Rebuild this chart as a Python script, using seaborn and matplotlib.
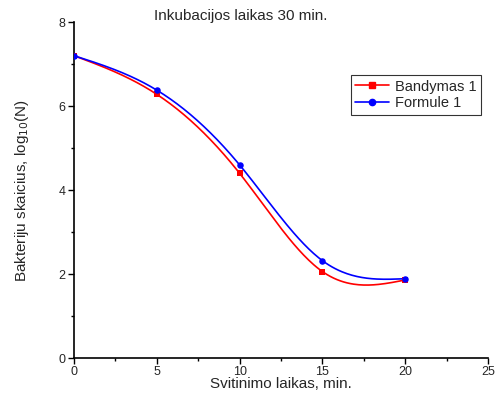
import numpy as np
import pandas as pd
import seaborn as sns
import matplotlib
matplotlib.use("Agg")
import matplotlib.pyplot as plt

# Data
minutes = [0, 5, 10, 15, 20]
bandymas = [7.20, 6.28, 4.40, 2.06, 1.86]
formule = [7.20, 6.38, 4.60, 2.32, 1.89]
series_names = ["Bandymas 1", "Formule 1"]
series_colors = ["#ff0000", "#0000ff"]
series_markers = ["s", "o"]


def natural_spline(x, y, n=200):
    """Smooth connecting line through the points (natural cubic spline)."""
    x = np.asarray(x, float)
    y = np.asarray(y, float)
    k = len(x)
    h = np.diff(x)
    A = np.zeros((k, k))
    b = np.zeros(k)
    A[0, 0] = A[-1, -1] = 1
    for i in range(1, k - 1):
        A[i, i - 1] = h[i - 1]
        A[i, i] = 2 * (h[i - 1] + h[i])
        A[i, i + 1] = h[i]
        b[i] = 6 * ((y[i + 1] - y[i]) / h[i] - (y[i] - y[i - 1]) / h[i - 1])
    m = np.linalg.solve(A, b)
    xs = np.linspace(x[0], x[-1], n)
    idx = np.clip(np.searchsorted(x, xs) - 1, 0, k - 2)
    x0, x1 = x[idx], x[idx + 1]
    hh = x1 - x0
    ys = (m[idx] * (x1 - xs) ** 3 / (6 * hh) + m[idx + 1] * (xs - x0) ** 3 / (6 * hh)
          + (y[idx] / hh - m[idx] * hh / 6) * (x1 - xs)
          + (y[idx + 1] / hh - m[idx + 1] * hh / 6) * (xs - x0))
    return xs, ys


sns.set_style("ticks")
plt.rcParams['font.family'] = ['Liberation Sans', 'DejaVu Sans']

fig = plt.figure(figsize=(4.96, 4.01), dpi=100)
ax = fig.add_axes([0.149, 0.107, 0.835, 0.838])

for name, vals, col, mk in zip(series_names, [bandymas, formule], series_colors, series_markers):
    xs, ys = natural_spline(minutes, vals)
    curve = pd.DataFrame({"x": xs, "y": ys})
    sns.lineplot(data=curve, x="x", y="y", ax=ax, color=col, lw=1.2)
    pts = pd.DataFrame({"x": minutes, "y": vals})
    sns.scatterplot(data=pts, x="x", y="y", ax=ax, color=col, marker=mk,
                    s=22, edgecolor=col, linewidth=0, zorder=3)
    ax.plot([], [], color=col, marker=mk, ms=4.5, lw=1.2, label=name)

ax.set_xlim(0, 25)
ax.set_ylim(0, 8)
ax.set_xticks([0, 5, 10, 15, 20, 25])
ax.set_yticks([0, 2, 4, 6, 8])
ax.set_xticks(np.arange(2.5, 25, 5), minor=True)
ax.set_yticks(np.arange(1, 8, 2), minor=True)
ax.tick_params(which="major", direction="out", length=4, width=1, labelsize=9,
               pad=2, color="black")
ax.tick_params(which="minor", direction="out", length=2.5, width=1, color="black")
for s in ["left", "bottom"]:
    ax.spines[s].set_linewidth(1.2)
    ax.spines[s].set_color("black")
sns.despine(ax=ax)

ax.set_xlabel("Svitinimo laikas, min.", fontsize=11, labelpad=-1)
ax.set_ylabel("Bakteriju skaicius, log$_{10}$(N)", fontsize=11, labelpad=20)
fig.text(0.485, 0.96, "Inkubacijos laikas 30 min.", ha="center", va="center", fontsize=11)

leg = ax.legend(loc="upper left", bbox_to_anchor=(0.669, 0.842), fontsize=10.5,
                frameon=True, fancybox=False, borderpad=0.3, handlelength=2.3,
                labelspacing=0.2, handletextpad=0.4, borderaxespad=0)
leg.get_frame().set_edgecolor("black")
leg.get_frame().set_linewidth(0.8)

fig.savefig("out.png", dpi=100)
